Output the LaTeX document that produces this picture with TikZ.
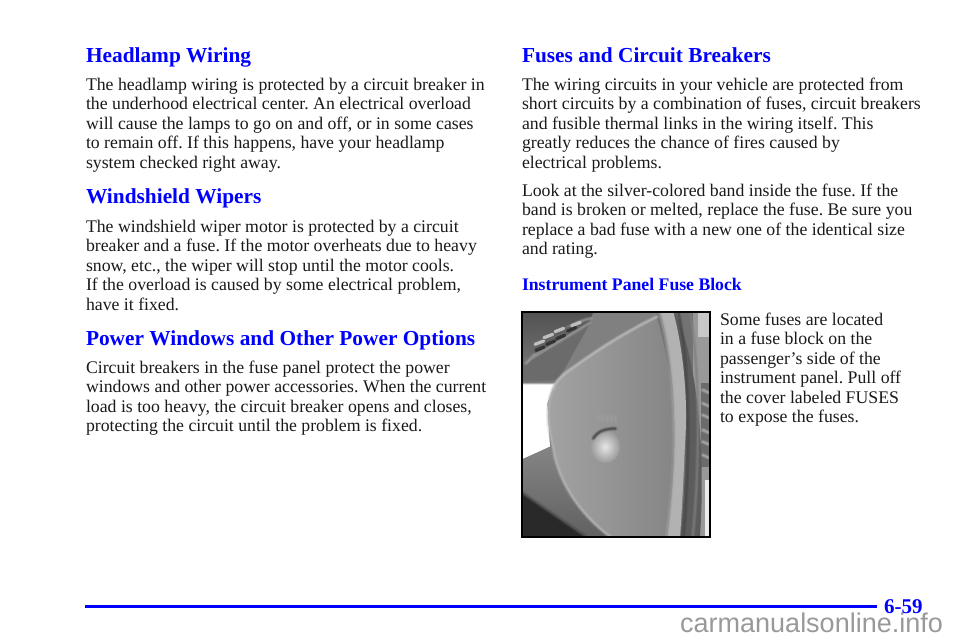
\documentclass[tikz,border=0pt]{standalone}
\usepackage{fontspec}
\setmainfont{Liberation Serif}
\newfontfamily\wmfont{Liberation Sans}
\definecolor{headblue}{RGB}{0,0,255}
\definecolor{bodyink}{RGB}{26,26,26}
\definecolor{wmgray}{RGB}{153,153,153}
\newcommand{\bodyfont}{\frenchspacing\fontsize{17.75}{19.5}\selectfont}
\newcommand{\tl}[4]{\node[tline] (#1) at (#2,#3) {\bodyfont #4};}
% a soft-edged stroke, to imitate the blur of the photo
\newcommand{\softstroke}[2]{%
  \draw[#1,line width=4.5pt,opacity=.2,line cap=round,line join=round] #2;
  \draw[#1,line width=3pt,opacity=.3,line cap=round,line join=round] #2;
  \draw[#1,line width=1.5pt,opacity=.5,line cap=round,line join=round] #2;}
\tikzset{
  tline/.style={anchor=base west,inner sep=0pt,outer sep=0pt,text=bodyink},
  headline/.style={anchor=base west,inner sep=0pt,outer sep=0pt,text=headblue,font=\frenchspacing\fontsize{21.35}{24}\selectfont\bfseries},
  subhead/.style={anchor=base west,inner sep=0pt,outer sep=0pt,text=headblue,font=\frenchspacing\fontsize{17.7}{19}\selectfont\bfseries},
  ventmark/.style={line width=3.2pt,line cap=round},
}
\begin{document}
\begin{tikzpicture}[x=1pt,y=-1pt]
\useasboundingbox (0,0) rectangle (960,640);
\fill[white] (0,0) rectangle (960,640);
% left column
\node[headline] (h1) at (86,62) {Headlamp Wiring};
\tl{a1}{86}{90.4}{The headlamp wiring is protected by a circuit breaker in}
\tl{a2}{86}{109.9}{the underhood electrical center. An electrical overload}
\tl{a3}{86}{129.4}{will cause the lamps to go on and off, or in some cases}
\tl{a4}{86}{148.9}{to remain off. If this happens, have your headlamp}
\tl{a5}{86}{168.4}{system checked right away.}
\node[headline] (h2) at (86,203) {Windshield Wipers};
\tl{b1}{86}{232}{The windshield wiper motor is protected by a circuit}
\tl{b2}{86}{251.4}{breaker and a fuse. If the motor overheats due to heavy}
\tl{b3}{86}{271}{snow, etc., the wiper will stop until the motor cools.}
\tl{b4}{86}{290.6}{If the overload is caused by some electrical problem,}
\tl{b5}{86}{310}{have it fixed.}
\node[headline] (h3) at (86,345) {Power Windows and Other Power Options};
\tl{c1}{86}{373.4}{Circuit breakers in the fuse panel protect the power}
\tl{c2}{86}{392.9}{windows and other power accessories. When the current}
\tl{c3}{86}{412.4}{load is too heavy, the circuit breaker opens and closes,}
\tl{c4}{86}{431.9}{protecting the circuit until the problem is fixed.}
% right column
\node[headline] (h4) at (522,62) {Fuses and Circuit Breakers};
\tl{d1}{522}{90.4}{The wiring circuits in your vehicle are protected from}
\tl{d2}{522}{109.9}{short circuits by a combination of fuses, circuit breakers}
\tl{d3}{522}{129.4}{and fusible thermal links in the wiring itself. This}
\tl{d4}{522}{148.9}{greatly reduces the chance of fires caused by}
\tl{d5}{522}{168.4}{electrical problems.}
\tl{e1}{522}{196.4}{Look at the silver-colored band inside the fuse. If the}
\tl{e2}{522}{215.9}{band is broken or melted, replace the fuse. Be sure you}
\tl{e3}{522}{235.4}{replace a bad fuse with a new one of the identical size}
\tl{e4}{522}{254.9}{and rating.}
\node[subhead] (h5) at (522,290) {Instrument Panel Fuse Block};
\tl{f1}{720}{325.4}{Some fuses are located}
\tl{f2}{720}{344.9}{in a fuse block on the}
\tl{f3}{720}{364.4}{passenger’s side of the}
\tl{f4}{720}{383.9}{instrument panel. Pull off}
\tl{f5}{720}{403.4}{the cover labeled FUSES}
\tl{f6}{720}{422.9}{to expose the fuses.}
% photo
\begin{scope}[shift={(510,300)},x=0.33333pt,y=-0.33333pt]
\clip (35,35) rectangle (600,710);
\fill[black!55] (35,35) rectangle (600,710);
% upper console
\fill[black!50] (35,35) -- (450,35) -- (150,240) -- (35,250) -- cycle;
\shade[top color=black!68,bottom color=black!55] (35,35) -- (250,35) -- (240,65) -- (120,135) -- (35,200) -- cycle;
\fill[black!58] (35,200) -- (240,70) -- (145,240) -- (35,250) -- cycle;
% vent bezel
\softstroke{black!38}{(48,190) .. controls (110,125) and (180,65) .. (245,55)}
\softstroke{black!42}{(70,170) .. controls (130,135) and (190,100) .. (240,68)}
\fill[black!62] (70,150) .. controls (110,105) and (170,75) .. (225,68) .. controls (180,100) and (130,130) .. (75,160) -- cycle;
\foreach \ax/\ay in {88/128,115/108,148/90,198/72}{
  \draw[ventmark,black!25] (\ax-13,\ay+5) -- (\ax+13,\ay-5);
}
\foreach \ax/\ay in {90/146,122/128,152/111,185/88}{
  \draw[ventmark,black!80] (\ax-12,\ay+5) -- (\ax+12,\ay-5);
}
% window
\fill[white] (35,250) -- (135,250) -- (112,310) -- (120,440) -- (35,478) -- cycle;
\softstroke{black!50}{(35,248) -- (135,248)}
% lower left
\shade[top color=black!48,bottom color=black!62] (35,480) -- (120,440) -- (160,540) -- (300,710) -- (230,710) -- (35,570) -- cycle;
\fill[black!84] (35,580) -- (225,710) -- (35,710) -- cycle;
\softstroke{black!72}{(35,578) -- (225,708)}
% right strips
\fill[black!40] (550,35) rectangle (600,710);
\fill[black!22] (565,35) rectangle (600,110);
\fill[black!58] (572,250) rectangle (600,500);
\foreach \my in {270,310,345,390,425,465}{
  \softstroke{black!28}{(578,\my) -- (596,\my+8)}
}
\fill[black!8] (585,540) rectangle (600,710);
\fill[black!64] (495,35) .. controls (550,150) and (590,400) .. (570,710) -- (512,710) .. controls (540,400) and (530,180) .. (470,35) -- cycle;
\softstroke{black!50}{(540,35) .. controls (570,200) and (570,500) .. (548,710)}
\softstroke{black!72}{(505,35) .. controls (535,180) and (545,420) .. (520,710)}
% shield
\shade[left color=black!36,right color=black!48]
  (440,50) .. controls (460,120) and (500,280) .. (490,420) .. controls (485,520) and (480,620) .. (470,710)
  -- (300,710) .. controls (220,650) and (150,560) .. (130,450) .. controls (115,380) and (105,320) .. (130,265)
  .. controls (140,235) and (170,215) .. (200,195) .. controls (290,130) and (370,85) .. (440,50) -- cycle;
\softstroke{black!28}{(300,710) .. controls (220,650) and (150,560) .. (130,450) .. controls (115,380) and (105,320) .. (130,265)}
\softstroke{black!24}{(130,265) .. controls (140,235) and (170,215) .. (200,195) .. controls (290,130) and (370,85) .. (440,50)}
% light band
\fill[black!30] (450,35) -- (490,35) .. controls (520,150) and (535,300) .. (525,430) .. controls (520,550) and (515,640) .. (510,710) -- (472,710) .. controls (485,600) and (500,450) .. (490,300) .. controls (485,200) and (470,100) .. (450,35) -- cycle;
\softstroke{black!38}{(470,710) .. controls (483,600) and (498,450) .. (488,300) .. controls (483,200) and (468,100) .. (448,35)}
% button
\shade[inner color=black!10,outer color=black!40] (285,440) ellipse (45 and 50);
\softstroke{black!78}{(250,415) .. controls (262,395) and (285,385) .. (316,386)}
% moulded lettering
\foreach \lx in {265,278,291,304,316}{
  \softstroke{black!38}{(\lx,348) -- (\lx,362)}
}
\end{scope}
\draw[black,line width=1.6pt] (521.7,311.7) rectangle (710,537);
% footer
\draw[headblue,line width=2.6pt] (85,606.3) -- (877,606.3);
\node[anchor=base west,inner sep=0pt,text=headblue,font=\fontsize{21}{24}\selectfont\bfseries] (pg) at (884,613) {6-59};
\node[anchor=base west,inner sep=0pt,text=wmgray,font=\wmfont\fontsize{27}{30}\selectfont] (wm) at (680,632) {carmanualsonline.info};
\end{tikzpicture}
\end{document}
